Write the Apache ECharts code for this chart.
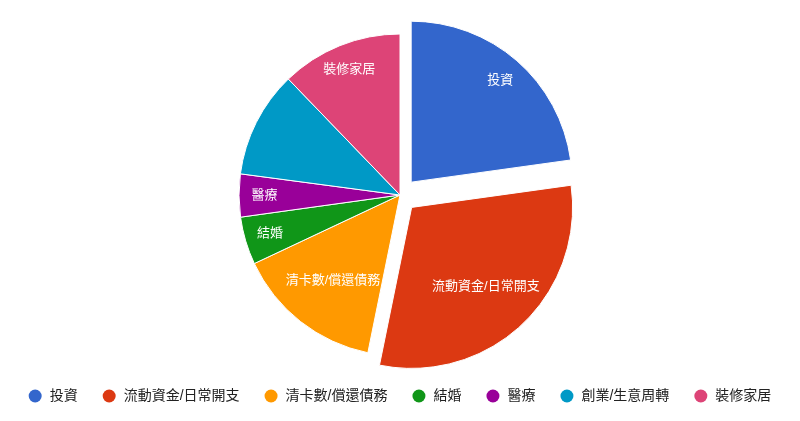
<!DOCTYPE html>
<html>
<head>
    <meta charset="utf-8">
    <title>ECharts</title>
    <script src="https://cdn.jsdelivr.net/npm/echarts@6/dist/echarts.min.js"></script>
    <style>
        html, body { margin: 0; padding: 0; background: #fff; }
    </style>
</head>
<body>
    <div id="main" style="width: 800px;height:421px;"></div>
    <script type="text/javascript">
        // 類別與百分比（由圖中扇形角度估算）
        var categories = ['投資', '流動資金/日常開支', '清卡數/償還債務', '結婚', '醫療', '創業/生意周轉', '裝修家居'];
        var values = [22.8, 30.4, 14.8, 4.8, 4.3, 10.7, 12.2];
        var exploded = ['投資', '流動資金/日常開支'];
        // 寬標籤放在較靠內的位置；放不下的不顯示
        var wideLabels = ['流動資金/日常開支', '清卡數/償還債務'];
        var hiddenLabels = ['創業/生意周轉'];
        var palette = ['#3366cc', '#dc3912', '#ff9900', '#109618', '#990099', '#0099c6', '#dd4477'];

        var fontFamily = "Arial, 'Noto Sans CJK TC', sans-serif";

        function buildData(labelFilter) {
            return categories.map(function (name, i) {
                var item = {
                    name: name,
                    value: values[i],
                    selected: exploded.indexOf(name) >= 0
                };
                if (labelFilter) {
                    item.label = { show: hiddenLabels.indexOf(name) < 0 && labelFilter(name) };
                }
                return item;
            });
        }

        var base = {
            type: 'pie',
            center: [400, 195],
            startAngle: 90,
            clockwise: true,
            selectedMode: 'multiple',
            selectedOffset: 17,
            animation: false,
            avoidLabelOverlap: false,
            emphasis: { disabled: true },
            labelLine: { show: false }
        };

        function labelSeries(radius, filter) {
            return Object.assign({}, base, {
                radius: radius,
                silent: true,
                itemStyle: { color: 'rgba(0,0,0,0)', borderWidth: 0 },
                label: {
                    show: true,
                    position: 'inside',
                    color: '#ffffff',
                    fontSize: 13,
                    fontFamily: fontFamily,
                    formatter: '{b}'
                },
                data: buildData(filter)
            });
        }

        var myChart = echarts.init(document.getElementById('main'));
        var option = {
            backgroundColor: '#ffffff',
            color: palette,
            legend: {
                data: categories,
                left: 'center',
                top: 384,
                icon: 'circle',
                itemWidth: 13,
                itemHeight: 13,
                itemGap: 25,
                selectedMode: false,
                itemStyle: { borderWidth: 0 },
                textStyle: {
                    color: '#222222',
                    fontSize: 14,
                    fontFamily: fontFamily,
                    padding: [0, 0, 0, 3]
                }
            },
            series: [
                Object.assign({}, base, {
                    name: 'main',
                    radius: [0, 161],
                    itemStyle: { borderColor: '#ffffff', borderWidth: 1 },
                    label: { show: false },
                    data: buildData(null)
                }),
                labelSeries([104, 161], function (n) { return wideLabels.indexOf(n) < 0; }),
                labelSeries([50, 161], function (n) { return wideLabels.indexOf(n) >= 0; })
            ]
        };
        myChart.setOption(option);
    </script>
</body>
</html>
